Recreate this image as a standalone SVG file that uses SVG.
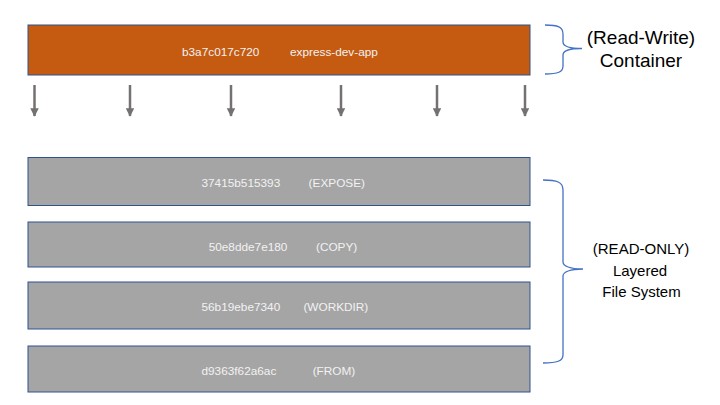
<svg xmlns="http://www.w3.org/2000/svg" width="720" height="405" viewBox="0 0 720 405">
<style>
.box{stroke:#2F528F;stroke-width:1}
.rw{fill:#C55A11}
.ro{fill:#A5A5A5}
.t{font-family:"Liberation Sans",Arial,sans-serif;font-size:11.8px;fill:#F2F2F2}
.lbl{font-family:"Liberation Sans",Arial,sans-serif;fill:#000;text-anchor:middle}
.arr{stroke:#767171;stroke-width:2.5;fill:none}
.brace{stroke:#4472C4;stroke-width:1.3;fill:none}
</style>
<defs>
<marker id="ah" viewBox="0 0 10 10" refX="9" refY="5" markerWidth="3.4" markerHeight="3.4" orient="auto" markerUnits="strokeWidth">
<path d="M0,0 L10,5 L0,10 z" fill="#767171"/>
</marker>
</defs>
<rect width="720" height="405" fill="#fff"/>
<g id="container">
<rect class="box rw" x="28" y="25" width="502" height="50"/>
<text class="t" x="182" y="56" fill="#fff">b3a7c017c720</text>
<text class="t" x="290" y="56">express-dev-app</text>
</g>
<g id="layer-expose">
<rect class="box ro" x="28" y="157.5" width="502" height="48"/>
<text class="t" x="201.5" y="187">37415b515393</text>
<text class="t" x="308.6" y="187">(EXPOSE)</text>
</g>
<g id="layer-copy">
<rect class="box ro" x="28" y="222" width="502" height="45"/>
<text class="t" x="208.7" y="251">50e8dde7e180</text>
<text class="t" x="316" y="251">(COPY)</text>
</g>
<g id="layer-workdir">
<rect class="box ro" x="28" y="282" width="502" height="47"/>
<text class="t" x="201.5" y="310.6">56b19ebe7340</text>
<text class="t" x="303.4" y="310.6">(WORKDIR)</text>
</g>
<g id="layer-from">
<rect class="box ro" x="28" y="346" width="502" height="46"/>
<text class="t" x="201.5" y="375">d9363f62a6ac</text>
<text class="t" x="312.7" y="375">(FROM)</text>
</g>
<g id="connectors">
<line class="arr" x1="34.5" y1="85" x2="34.5" y2="116" marker-end="url(#ah)"/>
<line class="arr" x1="130" y1="85" x2="130" y2="116" marker-end="url(#ah)"/>
<line class="arr" x1="231" y1="85" x2="231" y2="116" marker-end="url(#ah)"/>
<line class="arr" x1="341" y1="85" x2="341" y2="116" marker-end="url(#ah)"/>
<line class="arr" x1="437" y1="85" x2="437" y2="116" marker-end="url(#ah)"/>
<line class="arr" x1="525" y1="85" x2="525" y2="116" marker-end="url(#ah)"/>
</g>
<g id="rw-label">
<path class="brace" d="M545,25 C558,25 563,27 563,34 L563,42 C563,46 569,48.5 582,48.5 C569,48.5 563,51 563,55 L563,66 C563,72 558,74 545,74"/>
<text class="lbl" x="641" y="44" font-size="19">(Read-Write)</text>
<text class="lbl" x="641" y="66.5" font-size="19">Container</text>
</g>
<g id="ro-label">
<path class="brace" d="M543,180 C557,180 563,182 563,190 L563,262 C563,266 570,269 583,269 C570,269 563,272 563,276 L563,355 C563,361 557,363 543,363"/>
<text class="lbl" x="641" y="254" font-size="15">(READ-ONLY)</text>
<text class="lbl" x="640" y="275.5" font-size="15">Layered</text>
<text class="lbl" x="641.5" y="297" font-size="15">File System</text>
</g>
</svg>
